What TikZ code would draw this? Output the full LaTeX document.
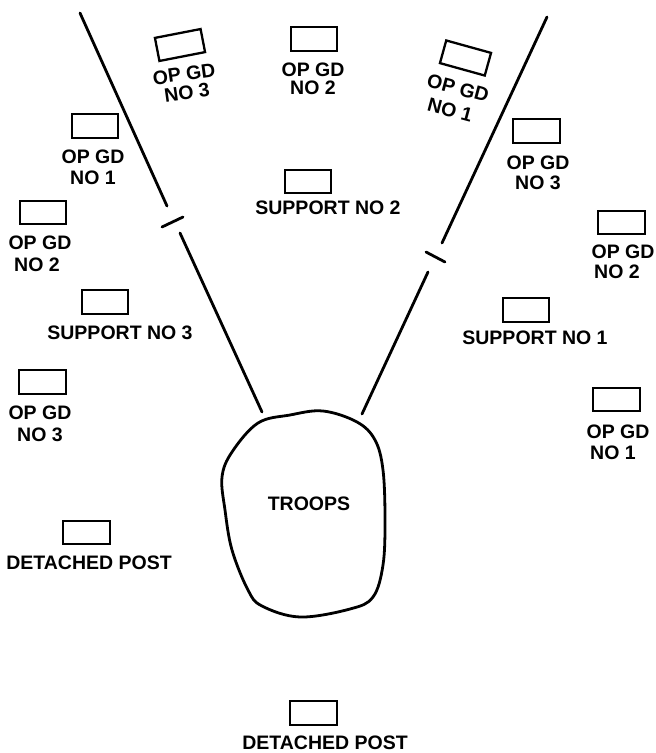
\documentclass[tikz,border=0pt]{standalone}
\usepackage{fontspec}
\newfontfamily\lblfamily{Liberation Sans}
\begin{document}
\begin{tikzpicture}[x=1pt,y=1pt,
  post/.style={draw, line width=2.3pt, minimum width=46.5pt, minimum height=23.5pt, inner sep=0pt},
  lbl/.style={font=\lblfamily\bfseries\fontsize{19.5}{22}\selectfont, inner sep=0pt},
  ray/.style={line width=2.8pt, line cap=round},
  blob/.style={line width=2.8pt}]
\useasboundingbox (0,0) rectangle (656,-753);

% rays
\coordinate (L0) at (80,-13);
\coordinate (L1) at (167,-206);
\coordinate (L2) at (180,-233);
\coordinate (L3) at (262,-412);
\coordinate (LT1) at (162,-227);
\coordinate (LT2) at (183,-217);
\coordinate (R0) at (547,-17);
\coordinate (R1) at (442,-243);
\coordinate (R2) at (428,-272);
\coordinate (R3) at (362,-414);
\coordinate (RT1) at (426,-252);
\coordinate (RT2) at (445,-262);
\draw[ray] (L0) -- (L1);
\draw[ray] (L2) -- (L3);
\draw[ray] (LT1) -- (LT2);
\draw[ray] (R0) -- (R1);
\draw[ray] (R2) -- (R3);
\draw[ray] (RT1) -- (RT2);

% troops area
\draw[blob] plot[smooth cycle, tension=0.6] coordinates {
 (323,-411) (357,-422) (375,-440) (383,-470) (385,-520) (383,-565)
 (373,-597) (350,-609) (300,-617) (262,-606) (248,-590) (232,-550)
 (225,-510) (222,-477) (232,-452) (258,-423) (290,-415)};
\node[lbl] (troops) at (309,-504) {TROOPS};

% top row
\node[post, rotate=11] (b13) at (180,-45) {};
\node[lbl, rotate=8] (t13a) at (184,-74) {OP GD};
\node[lbl, rotate=8] (t13b) at (187,-93) {NO 3};

\node[post] (b12) at (314,-39) {};
\node[lbl] (t12a) at (313,-70) {OP GD};
\node[lbl] (t12b) at (313,-87.5) {NO 2};

\node[post, rotate=-15.5] (b11) at (465.5,-58) {};
\node[lbl, rotate=-15] (t11a) at (458,-88) {OP GD};
\node[lbl, rotate=-15] (t11b) at (450,-110) {NO 1};

\node[post] (bs2) at (308,-181.5) {};
\node[lbl] (ts2) at (328,-208) {SUPPORT NO 2};

% left column
\node[post] (bl1) at (95,-126) {};
\node[lbl] (tl1a) at (93,-157) {OP GD};
\node[lbl] (tl1b) at (93,-178) {NO 1};

\node[post] (bl2) at (43,-212.5) {};
\node[lbl] (tl2a) at (40,-243) {OP GD};
\node[lbl] (tl2b) at (37,-265) {NO 2};

\node[post] (bs3) at (105,-302) {};
\node[lbl] (ts3) at (120,-333) {SUPPORT NO 3};

\node[post] (bl3) at (42.5,-382) {};
\node[lbl] (tl3a) at (40,-413) {OP GD};
\node[lbl] (tl3b) at (40,-435) {NO 3};

\node[post] (bdl) at (86.5,-532.5) {};
\node[lbl] (tdl) at (89,-563) {DETACHED POST};

% right column
\node[post] (br3) at (536.5,-131) {};
\node[lbl] (tr3a) at (538,-163) {OP GD};
\node[lbl] (tr3b) at (538,-183) {NO 3};

\node[post] (br2) at (621.5,-222.5) {};
\node[lbl] (tr2a) at (623,-252) {OP GD};
\node[lbl] (tr2b) at (617,-272) {NO 2};

\node[post] (bs1) at (526,-310) {};
\node[lbl] (ts1) at (535,-338) {SUPPORT NO 1};

\node[post] (br1) at (616.5,-399.5) {};
\node[lbl] (tr1a) at (618,-432) {OP GD};
\node[lbl] (tr1b) at (613,-453) {NO 1};

% bottom
\node[post] (bdb) at (313.5,-713) {};
\node[lbl] (tdb) at (325,-743) {DETACHED POST};
\end{tikzpicture}
\end{document}
